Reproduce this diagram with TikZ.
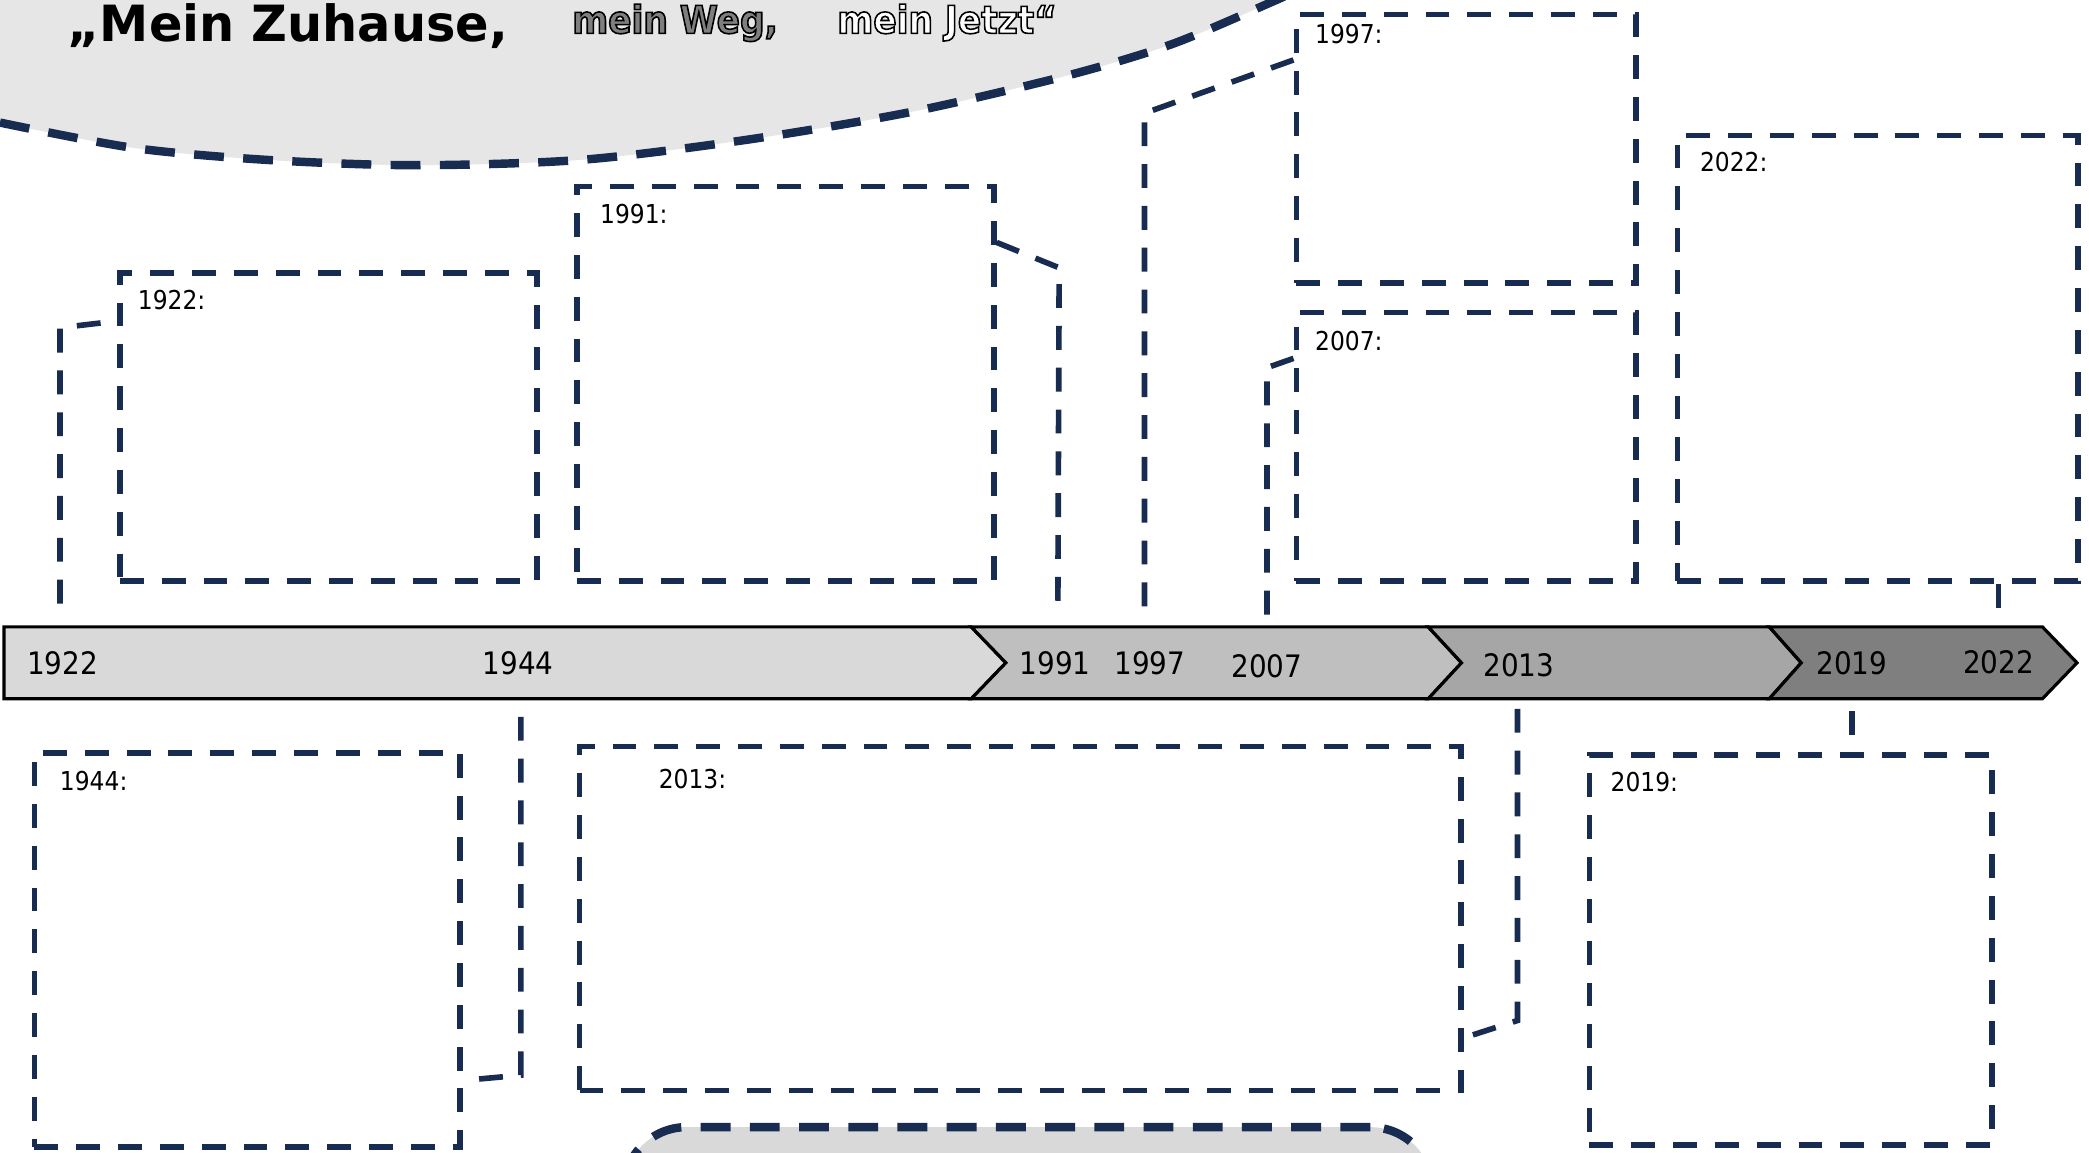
\documentclass[tikz,border=0pt]{standalone}
\usepackage{fontspec}
\setmainfont{DejaVu Sans Condensed}
\usetikzlibrary{fit}
\definecolor{navy}{RGB}{24,43,80}
\definecolor{blobgray}{RGB}{230,230,230}
\definecolor{segA}{RGB}{217,217,217}
\definecolor{segB}{RGB}{191,191,191}
\definecolor{segC}{RGB}{166,166,166}
\definecolor{segD}{RGB}{127,127,127}
\newcommand{\outlinedtext}[2]{{\color{#1}\special{pdf:literal direct 0 G 2 Tr 0.45 w}#2\special{pdf:literal direct 0 Tr}}}
\tikzset{
  box/.style={draw=navy, line width=1.6pt, dash pattern=on 6.8pt off 5.1pt, inner sep=0pt},
  conn/.style={draw=navy, line width=1.6pt, dash pattern=on 6.8pt off 5.1pt},
  bigdash/.style={draw=navy, line width=2.4pt, dash pattern=on 8.5pt off 5.5pt},
  lbl/.style={anchor=base west, inner sep=0pt, font=\fontsize{7.4}{8}\selectfont},
  yr/.style={anchor=center, inner sep=0pt, font=\fontsize{8.8}{10}\selectfont},
  seg/.style={draw=black, line width=0.9pt, line join=miter},
}
\begin{document}
\begin{tikzpicture}[x=0.013323cm, y=-0.013323cm]
\useasboundingbox (0,0) rectangle (1568,865);
\fill[white] (0,0) rectangle (1568,865);

% top blob
\fill[blobgray] (0,-5) -- (0,92) -- plot[smooth] coordinates {(0,92) (100,111) (200,120) (311,124) (436,120) (560,105) (684,84) (800,57) (880,33) (958,0) (975,-8)} -- cycle;
\draw[bigdash] plot[smooth] coordinates {(0,92) (100,111) (200,120) (311,124) (436,120) (560,105) (684,84) (800,57) (880,33) (958,0) (975,-8)};

% title
\node[anchor=base west, inner sep=0pt, font=\fontsize{14.2}{16}\bfseries\selectfont, xscale=1.1] (title1) at (50,31.5) {„Mein Zuhause,};
\node[anchor=base west, inner sep=0pt, font=\fontsize{10.9}{12}\bfseries\selectfont] (title2) at (429,25) {\outlinedtext{segD}{mein Weg,}};
\node[anchor=base west, inner sep=0pt, font=\fontsize{10.9}{12}\bfseries\selectfont] (title3) at (628,25) {\outlinedtext{white}{mein Jetzt“}};

% timeline
\filldraw[seg, fill=segA] (3,470.5) -- (729,470.5) -- (755,497.5) -- (729,524.5) -- (3,524.5) -- cycle;
\filldraw[seg, fill=segB] (729,470.5) -- (1072,470.5) -- (1097,497.5) -- (1072,524.5) -- (729,524.5) -- (755,497.5) -- cycle;
\filldraw[seg, fill=segC] (1072,470.5) -- (1328,470.5) -- (1352,497.5) -- (1328,524.5) -- (1072,524.5) -- (1097,497.5) -- cycle;
\filldraw[seg, fill=segD] (1328,470.5) -- (1533,470.5) -- (1559,497.5) -- (1533,524.5) -- (1328,524.5) -- (1352,497.5) -- cycle;

\node[yr] (y1922) at (47,498) {1922};
\node[yr] (y1944) at (389,498) {1944};
\node[yr] (y1991) at (792,498) {1991};
\node[yr] (y1997) at (863,498) {1997};
\node[yr] (y2007) at (951,500) {2007};
\node[yr] (y2013) at (1140,499) {2013};
\node[yr] (y2019) at (1390,498) {2019};
\node[yr] (y2022) at (1500,497) {2022};

% boxes
\node[box, fit={(90,205) (403,436)}] (b1922) {};
\node[box, fit={(433,140) (746,436)}] (b1991) {};
\node[box, fit={(973,11) (1228,212.5)}] (b1997) {};
\node[box, fit={(973,234.5) (1228,436)}] (b2007) {};
\node[box, fit={(1259,101.8) (1559.5,436)}] (b2022) {};
\node[box, fit={(25.8,565) (345.4,860.7)}] (b1944) {};
\node[box, fit={(435,560.4) (1096.5,818.6)}] (b2013) {};
\node[box, fit={(1193,566.7) (1495,859.4)}] (b2019) {};

\node[lbl] (l1922) at (103,232) {1922:};
\node[lbl] (l1991) at (450,167.5) {1991:};
\node[lbl] (l1997) at (986.6,32.6) {1997:};
\node[lbl] (l2007) at (986.6,263) {2007:};
\node[lbl] (l2022) at (1275.5,129) {2022:};
\node[lbl] (l1944) at (44.5,593.5) {1944:};
\node[lbl] (l2013) at (494,592) {2013:};
\node[lbl] (l2019) at (1208.4,594) {2019:};

% connector ends on the timeline
\coordinate (t1922) at (45,453);
\coordinate (t1991) at (794,460);
\coordinate (t1997) at (859,464);
\coordinate (t2007) at (951,469);
\coordinate (t2022) at (1500,463);
\coordinate (t1944) at (391,538);
\coordinate (t2013) at (1139,532);
\coordinate (t2019) at (1390,534);

\draw[conn] (t1922) -- (45,246) -- (b1922.west |- 0,241);
\draw[conn] (b1991.east |- 0,182) -- (795,201) -- (t1991);
\draw[conn] (b1997.west |- 0,45) -- (859,85) -- (t1997);
\draw[conn] (b2007.west |- 0,269) -- (951,276) -- (t2007);
\draw[conn] (b2022.south -| t2022) -- (t2022);
\draw[conn] (t1944) -- (391,807) -- (b1944.east |- 0,811);
\draw[conn] (t2013) -- (1139,766) -- (b2013.east |- 0,779);
\draw[conn] (t2019) -- (t2019 |- b2019.north);

% bottom rounded panel
\node[bigdash, fill=segA, rounded corners=18, inner sep=0pt, fit={(468,846) (1076,960)}] (panel) {};
\end{tikzpicture}
\end{document}
